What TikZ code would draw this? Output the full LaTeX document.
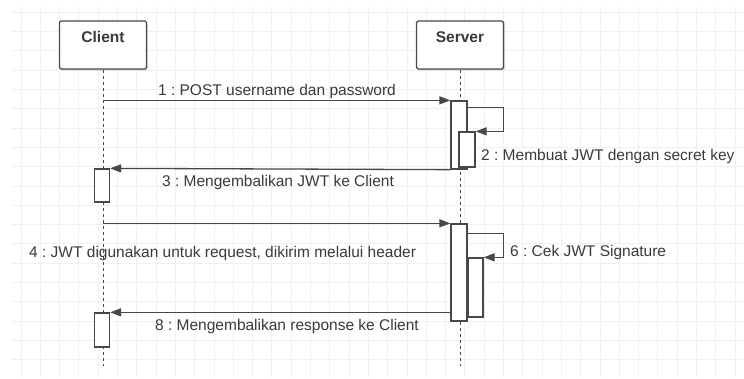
\documentclass[tikz,border=0pt]{standalone}
\usepackage{fontspec}
\setmainfont{Liberation Sans}
\usetikzlibrary{arrows.meta,shadows}
\definecolor{ink}{HTML}{484848}
\definecolor{txt}{HTML}{3A3A3A}
\definecolor{gridc}{HTML}{F0F0F0}
\pgfdeclarelayer{gridlayer}
\pgfdeclarelayer{bg}
\pgfsetlayers{gridlayer,bg,main}
\frenchspacing

\begin{document}
\begin{tikzpicture}[x=1pt,y=-1pt,
  every node/.style={font=\fontsize{15.5}{18}\selectfont, text=txt},
  actor/.style={draw=ink, line width=1.3pt, fill=white, rounded corners=1.5pt,
    minimum width=87pt, minimum height=48pt, inner sep=0pt,
    font=\fontsize{15.5}{18}\selectfont\bfseries, text height=11pt, text depth=17pt,
    drop shadow={shadow xshift=1.5pt, shadow yshift=-1.5pt, opacity=0.25, fill=gray}},
  act/.style={draw=ink, line width=1.3pt, fill=white, inner sep=0pt},
  life/.style={draw=ink, line width=1pt, dash pattern=on 3pt off 3pt},
  msg/.style={draw=ink, line width=1.3pt, -{Triangle[length=11pt,width=8pt]}},
  lbl/.style={anchor=base, inner sep=0pt},
  lblw/.style={anchor=base west, inner sep=0pt}]

\useasboundingbox (0,0) rectangle (744,378);

% background grid
\begin{pgfonlayer}{gridlayer}
  \fill[white] (0,0) rectangle (744,378);
  \foreach \k in {0,...,37}
    \draw[gridc, line width=1pt] ({21+19.3*\k},7) -- ({21+19.3*\k},378);
  \foreach \k in {0,...,18}
    \draw[gridc, line width=1pt] (12,{12.3+19.3*\k}) -- (744,{12.3+19.3*\k});
\end{pgfonlayer}

% participants
\node[actor] (client) at (103,45) {Client};
\node[actor] (server) at (460,45) {Server};

% activation bars
\node[act, minimum width=16pt, minimum height=68pt] (sa1) at (459,135) {};
\node[act, minimum width=16pt, minimum height=35pt] (sa2) at (467,149.5) {};
\node[act, minimum width=15pt, minimum height=33pt] (ca1) at (102,185.5) {};
\node[act, minimum width=16pt, minimum height=97pt] (sa3) at (459,272.5) {};
\node[act, minimum width=15pt, minimum height=59pt] (sa4) at (475.5,287.5) {};
\node[act, minimum width=15pt, minimum height=34pt] (ca2) at (102,330) {};

% lifelines and messages between participants
\begin{pgfonlayer}{bg}
  \draw[life] (client.south) -- ++(0,296);
  \draw[life] (server.south) -- ++(0,296);
  \draw[msg] (client.south |- sa1.north) -- (sa1.north west);
  \draw[msg] (sa1.south west) -- (ca1.north east);
  \draw[msg] (client.south |- sa3.north) -- (sa3.north west);
  \draw[msg] (sa4.west |- ca2.north) -- (ca2.north east);
\end{pgfonlayer}

% self calls on the server
\draw[msg] ([yshift=-7pt]sa1.north east) -- ++(36,0) |- (sa2.north east);
\draw[msg] ([yshift=-10pt]sa3.north east) -- ++(36,0) |- (sa4.north east);

% message labels
\node[lbl]  (t1) at (277,95)  {1 : POST username dan password};
\node[lblw] (t2) at (481,160) {2 : Membuat JWT dengan secret key};
\node[lbl]  (t3) at (278,186) {3 : Mengembalikan JWT ke Client};
\node[lblw] (t4) at (29,257)  {4 : JWT digunakan untuk request, dikirim melalui header};
\node[lblw] (t6) at (510,256) {6 : Cek JWT Signature};
\node[lbl]  (t8) at (287,330) {8 : Mengembalikan response ke Client};
\end{tikzpicture}
\end{document}
